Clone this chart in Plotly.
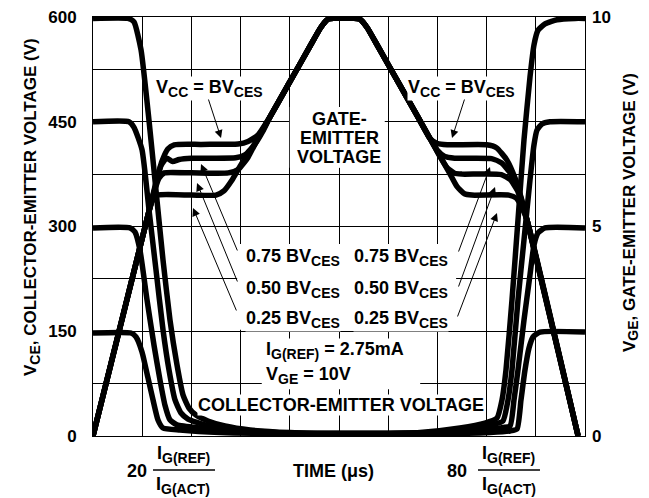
import plotly.graph_objects as go

FONT = "Liberation Sans"

# ---------------- data (time in scaled units 0..100) ----------------
# Collector-emitter voltage curves (left axis, V)
t_vce600 = [0, 7.11, 8.33, 9.76, 11.38, 12.80, 14.23, 15.65, 17.07, 18.29, 19.51, 20.93, 23.37, 26.83, 31.91, 40.04, 52.24,
            58.33, 66.46, 74.59, 79.67, 82.11, 83.13, 83.94, 85.16, 86.38, 87.60, 88.82, 89.63, 90.45, 91.87, 94.31, 97.97, 100]
v_vce600 = [598, 598, 593, 553, 452, 352, 252, 166, 102, 59, 40, 30, 21.5, 14.3, 8.6, 5.0, 3.5,
            3.5, 5.0, 11.5, 18.6, 25.8, 51.6, 94.5, 194.8, 309.3, 424, 514, 560, 581, 590, 596, 598, 598]

t_vce450 = [0, 7.32, 8.33, 9.96, 11.38, 12.80, 14.23, 15.45, 16.67, 17.89, 19.31, 22.76, 27.85, 33.94, 42.07, 52.24,
            58.33, 68.50, 76.63, 81.10, 83.33, 84.35, 85.16, 86.38, 87.60, 88.82, 89.63, 90.24, 91.26, 92.89, 100]
v_vce450 = [450, 450, 442, 410, 324, 238, 152, 94.5, 51.6, 32.9, 24.3, 15.8, 10, 6.5, 3.5, 3.5,
            3.5, 5.0, 10, 15.8, 21.5, 51.6, 94.5, 194.8, 280.7, 366.6, 416.7, 438, 446.8, 450, 450]

t_vce300 = [0, 7.52, 8.54, 9.55, 10.98, 12.40, 13.62, 14.63, 15.65, 17.07, 21.75, 29.88, 40.04, 52.24,
            58.33, 70.53, 78.66, 82.72, 84.76, 85.57, 86.38, 87.60, 88.82, 89.63, 90.45, 91.87, 100]
v_vce300 = [298, 298, 292, 266, 195, 130, 80, 44, 23, 16, 11.5, 6.5, 3.5, 3.5,
            3.5, 5.0, 8.6, 11.5, 14.3, 51.6, 94.5, 166, 230.6, 273.5, 290.7, 298, 298]

t_vce150 = [0, 7.72, 8.74, 9.96, 11.18, 12.20, 13.21, 14.23, 17.68, 25.81, 38.0, 52.24,
            58.33, 72.56, 80.69, 84.76, 86.18, 86.99, 87.80, 88.62, 89.43, 90.85, 100]
v_vce150 = [147.5, 147.5, 141.8, 120.3, 83.1, 51.6, 22.9, 11.5, 8.6, 5.0, 3.5, 3.5,
            3.5, 3.5, 5.0, 7.2, 10, 51.6, 94.5, 126, 141.8, 148.9, 148.9]

# Gate-emitter voltage curves (right axis, V)
t_vge100 = [0, 11.0, 12.8, 14.0, 15.2, 16.5, 22.0, 29.5, 31.5, 33.5, 36.0, 40.0, 44.0, 46.3, 47.8,
            54.2, 55.7, 58.0, 62.0, 66.0, 68.5, 70.0, 72.0, 80.0, 82.0, 84.1, 85.8, 87.0, 88.2, 98.6]
v_vge100 = [0, 5.19, 6.05, 6.55, 6.85, 6.95, 6.96, 6.97, 7.03, 7.18, 7.62, 8.45, 9.28, 9.75, 9.95,
            9.95, 9.75, 9.28, 8.45, 7.62, 7.10, 6.98, 6.95, 6.95, 6.88, 6.59, 6.15, 5.70, 5.16, 0]

t_vge075 = [0, 11.0, 12.8, 13.8, 15.0, 16.2, 17.5, 20.0, 29.0, 31.0, 33.0, 34.5, 36.0, 40.0, 44.0, 46.3, 47.8,
            54.2, 55.7, 58.0, 62.0, 66.0, 68.5, 70.0, 71.5, 73.5, 81.0, 83.0, 85.0, 86.5, 88.2, 98.6]
v_vge075 = [0, 5.19, 6.0, 6.45, 6.63, 6.55, 6.6, 6.63, 6.64, 6.72, 6.98, 7.27, 7.62, 8.45, 9.28, 9.75, 9.95,
            9.95, 9.75, 9.28, 8.45, 7.62, 7.10, 6.82, 6.67, 6.63, 6.62, 6.52, 6.25, 5.85, 5.16, 0]

t_vge050 = [0, 11.0, 12.5, 13.4, 14.5, 20.0, 27.5, 29.5, 31.5, 33.5, 36.0, 40.0, 44.0, 46.3, 47.8,
            54.2, 55.7, 58.0, 62.0, 66.0, 68.5, 70.5, 72.0, 73.5, 75.0, 83.0, 84.8, 86.3, 87.3, 88.2, 98.6]
v_vge050 = [0, 5.19, 5.85, 6.15, 6.28, 6.28, 6.28, 6.36, 6.65, 7.10, 7.62, 8.45, 9.28, 9.75, 9.95,
            9.95, 9.75, 9.28, 8.45, 7.62, 7.10, 6.68, 6.40, 6.27, 6.25, 6.24, 6.12, 5.85, 5.50, 5.16, 0]

t_vge025 = [0, 11.0, 12.0, 13.2, 20.0, 25.0, 26.6, 28.2, 30.2, 32.5, 36.0, 40.0, 44.0, 46.3, 47.8,
            54.2, 55.7, 58.0, 62.0, 66.0, 68.5, 70.5, 72.5, 74.0, 75.5, 77.0, 84.5, 86.0, 87.2, 88.2, 98.6]
v_vge025 = [0, 5.19, 5.60, 5.75, 5.75, 5.75, 5.85, 6.10, 6.50, 6.90, 7.62, 8.45, 9.28, 9.75, 9.95,
            9.95, 9.75, 9.28, 8.45, 7.62, 7.10, 6.68, 6.27, 5.95, 5.78, 5.75, 5.75, 5.68, 5.45, 5.16, 0]

# axis ticks
left_tickvals = [0, 75, 150, 225, 300, 375, 450, 525, 600]
left_ticktext = ["0", " ", "150", " ", "300", " ", "450", " ", "600"]
right_tickvals = [0, 5, 10]
right_ticktext = ["0", "5", "10"]

# arrows: (tip_t, tip_v, tail_t, tail_v) on left axis
arrows = [
    (26.02, 426.7, 23.37, 484),   # Vcc = BVces (left)
    (72.97, 426.7, 75.6, 484),    # Vcc = BVces (right)
    (21.95, 389.5, 29.47, 263.5),
    (21.14, 362.3, 29.47, 219.1),
    (20.33, 326.5, 29.27, 177.6),
    (80.69, 385.2, 74.19, 262.0),
    (81.71, 356.6, 74.19, 211.9),
    (82.11, 319.3, 73.98, 169.0),
]

# white label areas that hide the grid (t0, t1, v0, v1)
label_areas = [
    (29.3, 73.8, 152, 275),
    (34.3, 66.5, 67, 120),
    (40.0, 59.3, 384, 471),
]

# ---------------- figure ----------------
fig = go.Figure()
line_style = dict(color="black", width=5.5, shape="spline", smoothing=0.5)
for tt, vv in [(t_vce600, v_vce600), (t_vce450, v_vce450), (t_vce300, v_vce300), (t_vce150, v_vce150)]:
    fig.add_trace(go.Scatter(x=tt, y=vv, mode="lines", line=line_style, yaxis="y", hoverinfo="skip"))
for tt, vv in [(t_vge100, v_vge100), (t_vge075, v_vge075), (t_vge050, v_vge050), (t_vge025, v_vge025)]:
    fig.add_trace(go.Scatter(x=tt, y=vv, mode="lines", line=line_style, yaxis="y2", hoverinfo="skip"))

tickfont = dict(family=FONT, size=17, color="black", weight="bold")
# page has an 8px body margin: figure 641x490 so that the plot area sits at x 93..585, y 17..436
fig.update_layout(
    template="none",
    width=641, height=490,
    margin=dict(l=85, r=64, t=9, b=62, pad=0),
    paper_bgcolor="white", plot_bgcolor="white",
    showlegend=False,
    xaxis=dict(range=[0, 100], tick0=0, dtick=10, showgrid=True, gridcolor="black", gridwidth=1,
               showline=True, linecolor="black", linewidth=1, mirror=True, zeroline=False,
               showticklabels=False, ticks="", automargin=False),
    yaxis=dict(range=[0, 600], tickmode="array", tickvals=left_tickvals, ticktext=left_ticktext,
               showgrid=True, gridcolor="black", gridwidth=1, showline=True, linecolor="black",
               linewidth=1, mirror=True, zeroline=False, ticks="", tickfont=tickfont,
               ticklabelstandoff=12, ticklabeloverflow="allow", automargin=False),
    yaxis2=dict(range=[0, 10], overlaying="y", side="right", tickmode="array", tickvals=right_tickvals,
                ticktext=right_ticktext, showgrid=False, zeroline=False, showline=False, ticks="",
                tickfont=tickfont, ticklabelstandoff=6, ticklabeloverflow="allow", automargin=False),
)

for t0, t1, v0, v1 in label_areas:
    fig.add_shape(type="rect", xref="x", yref="y", x0=t0, x1=t1, y0=v0, y1=v1,
                  fillcolor="white", line=dict(width=0), layer="between")

S = '<span style="font-size:14px">'
E = '</span>'
def sub(s):
    return "<sub>" + S + s + E + "</sub>"

tfont = dict(family=FONT, size=18, color="black", weight="bold")
texts = [
    # (x, y, text, xanchor)
    (23.6, 497, "V" + sub("CC") + " = BV" + sub("CES"), "center"),
    (74.8, 497, "V" + sub("CC") + " = BV" + sub("CES"), "center"),
    (50.0, 454, "GATE-", "center"),
    (50.0, 427, "EMITTER", "center"),
    (50.0, 399.5, "VOLTAGE", "center"),
    (30.9, 255, "0.75 BV" + sub("CES"), "left"),
    (52.85, 255, "0.75 BV" + sub("CES"), "left"),
    (30.9, 210.5, "0.50 BV" + sub("CES"), "left"),
    (52.85, 210.5, "0.50 BV" + sub("CES"), "left"),
    (30.9, 167.5, "0.25 BV" + sub("CES"), "left"),
    (52.85, 167.5, "0.25 BV" + sub("CES"), "left"),
    (34.96, 123, "I" + sub("G(REF)") + " = 2.75mA", "left"),
    (34.96, 87, "V" + sub("GE") + " = 10V", "left"),
    (50.4, 44.4, "COLLECTOR-EMITTER VOLTAGE", "center"),
]
for x, y, s, xa in texts:
    fig.add_annotation(x=x, y=y, xref="x", yref="y", text=s, showarrow=False, xanchor=xa, yanchor="middle",
                       font=tfont, bgcolor="white", borderpad=0)

for tx, ty, ax, ay in arrows:
    fig.add_annotation(x=tx, y=ty, xref="x", yref="y", ax=ax, ay=ay, axref="x", ayref="y", text="",
                       showarrow=True, arrowhead=2, arrowsize=1.6, arrowwidth=1, arrowcolor="black")

# bottom labels (paper coordinates)
bottom = [
    (0.0894, -0.0835, "20"),
    (0.183, -0.043, "I" + sub("G(REF)")),
    (0.183, -0.119, "I" + sub("G(ACT)")),
    (0.488, -0.0835, "TIME (μs)"),
    (0.740, -0.0835, "80"),
    (0.8455, -0.043, "I" + sub("G(REF)")),
    (0.8455, -0.119, "I" + sub("G(ACT)")),
]
for x, y, s in bottom:
    fig.add_annotation(x=x, y=y, xref="paper", yref="paper", text=s, showarrow=False, xanchor="center",
                       yanchor="middle", font=tfont)
for x0, x1 in [(0.122, 0.248), (0.7825, 0.9085)]:
    fig.add_shape(type="line", xref="paper", yref="paper", x0=x0, x1=x1, y0=-0.0811, y1=-0.0811,
                  line=dict(color="black", width=1.5))

# axis titles
title_font = dict(family=FONT, size=17, color="black", weight="bold")
fig.add_annotation(x=-0.124, y=0.5465, xref="paper", yref="paper", textangle=-90, showarrow=False,
                   xanchor="center", yanchor="middle",
                   text="V" + sub("CE") + ", COLLECTOR-EMITTER VOLTAGE (V)", font=title_font)
fig.add_annotation(x=1.0935, y=0.532, xref="paper", yref="paper", textangle=-90, showarrow=False,
                   xanchor="center", yanchor="middle",
                   text="V" + sub("GE") + ", GATE-EMITTER VOLTAGE (V)", font=title_font)

fig.write_html("out.html")
